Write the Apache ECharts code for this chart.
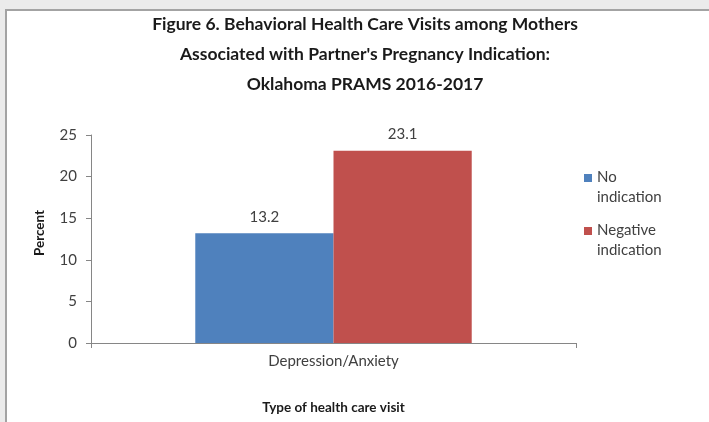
<!DOCTYPE html>
<html>
<head>
<meta charset="utf-8">
<script src="https://cdn.jsdelivr.net/npm/echarts@6/dist/echarts.min.js"></script>
<style>
html,body{margin:0;padding:0;background:#ebebeb;overflow:hidden;}
#frame{position:absolute;left:5px;top:9px;width:720px;height:430px;background:#fff;border-left:2px solid #a3a3a3;border-top:2px solid #a3a3a3;}
#chart{position:absolute;left:0;top:0;width:709px;height:422px;}
</style>
</head>
<body>
<div id="frame"></div>
<div id="chart"></div>
<script>
const titleLines = ["Figure 6. Behavioral Health Care Visits among Mothers", "Associated with Partner's Pregnancy Indication:", "Oklahoma PRAMS 2016-2017"];
const categories = ["Depression/Anxiety"];
const seriesNames = ["No\nindication", "Negative\nindication"];
const noIndication = [13.2];
const negativeIndication = [23.1];
const yTicks = { min: 0, max: 25, interval: 5 };
const xAxisTitle = "Type of health care visit";
const yAxisTitle = "Percent";

const font = "Lato, 'Open Sans', sans-serif";
const legendIcon = 'path://M0,0h8v8h-8z M0,26h8v0h-8z';

const chart = echarts.init(document.getElementById('chart'), null, {renderer: 'canvas'});
chart.setOption({
  backgroundColor: 'transparent',
  animation: false,
  textStyle: { fontFamily: font },
  title: {
    text: titleLines.join('\n'),
    left: 360, top: 4, textAlign: 'center',
    textStyle: { fontFamily: font, fontSize: 17.5, fontWeight: 'bold', color: '#1a1a1a', lineHeight: 30 }
  },
  legend: {
    orient: 'vertical', left: 579, top: 162, itemGap: 13,
    itemWidth: 8, itemHeight: 26, icon: legendIcon, itemTextGap: 6,
    textStyle: { fontFamily: font, fontSize: 15, color: '#404040', lineHeight: 20 },
    data: seriesNames
  },
  grid: { left: 91, right: 133, top: 135, bottom: 79, containLabel: false },
  xAxis: {
    type: 'category', data: categories,
    name: xAxisTitle, nameLocation: 'middle', nameGap: 58,
    nameTextStyle: { fontFamily: font, fontSize: 13.5, fontWeight: 'bold', color: '#1a1a1a' },
    axisLine: { lineStyle: { color: '#868686', width: 1 } },
    axisTick: { show: true, length: 5, lineStyle: { color: '#868686' } },
    axisLabel: { fontFamily: font, fontSize: 15, color: '#404040', margin: 11 }
  },
  yAxis: {
    type: 'value', min: yTicks.min, max: yTicks.max, interval: yTicks.interval,
    name: yAxisTitle, nameLocation: 'middle', nameGap: 44, nameRotate: 90,
    nameTextStyle: { fontFamily: font, fontSize: 13.5, fontWeight: 'bold', color: '#1a1a1a', padding: [0, 0, 0, 12] },
    axisLine: { show: true, lineStyle: { color: '#868686', width: 1 } },
    axisTick: { show: true, length: 5, lineStyle: { color: '#868686' } },
    axisLabel: { fontFamily: font, fontSize: 15, color: '#404040', margin: 14 },
    splitLine: { show: false }
  },
  series: [
    {
      name: seriesNames[0], type: 'bar', data: noIndication,
      barGap: '0%', barCategoryGap: '43%',
      itemStyle: { color: '#4f81bd' },
      label: { show: true, position: 'top', distance: 9, fontFamily: font, fontSize: 15, color: '#404040' }
    },
    {
      name: seriesNames[1], type: 'bar', data: negativeIndication,
      barGap: '0%', barCategoryGap: '43%',
      itemStyle: { color: '#c0504d' },
      label: { show: true, position: 'top', distance: 9, fontFamily: font, fontSize: 15, color: '#404040' }
    }
  ]
});
</script>
</body>
</html>
